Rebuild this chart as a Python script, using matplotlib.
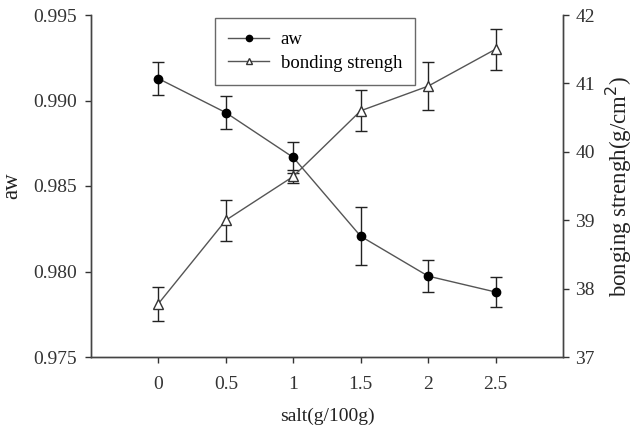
import matplotlib
matplotlib.use("Agg")
import matplotlib.pyplot as plt
from matplotlib.lines import Line2D

salt = [0, 0.5, 1, 1.5, 2, 2.5]
aw = [0.99128, 0.98929, 0.98667, 0.98206, 0.97973, 0.97880]
aw_err = [0.00098, 0.00098, 0.00090, 0.00170, 0.00095, 0.00090]
bond = [37.78, 39.00, 39.64, 40.60, 40.96, 41.50]
bond_err = [0.25, 0.30, 0.10, 0.30, 0.35, 0.30]
xticklabels = ["0", "0.5", "1", "1.5", "2", "2.5"]

plt.rcParams['font.family'] = ['Liberation Serif', 'DejaVu Serif']
fs = 14
line_c = '#555555'

fig = plt.figure(figsize=(6.39, 4.28), dpi=100)
ax = fig.add_axes([91/639, 1 - 357/428, (563-91)/639, (357-15)/428])
ax2 = ax.twinx()

ax.errorbar(salt, aw, yerr=aw_err, color=line_c, lw=1.0, marker='o', ms=6,
            mfc='black', mec='black', ecolor='#222222', elinewidth=1.0,
            capsize=4, capthick=1.0)
ax2.errorbar(salt, bond, yerr=bond_err, color=line_c, lw=1.0, marker='^', ms=6.5,
             mfc='white', mec='#333333', ecolor='#222222', elinewidth=1.0,
             capsize=4, capthick=1.0)

ax.set_xlim(-0.5, 3.0)
ax.set_ylim(0.975, 0.995)
ax.set_yticks([0.975, 0.980, 0.985, 0.990, 0.995])
ax.set_yticklabels(["0.975", "0.980", "0.985", "0.990", "0.995"])
ax.set_xticks(salt)
ax.set_xticklabels(xticklabels)
ax2.set_ylim(37, 42)
ax2.set_yticks([37, 38, 39, 40, 41, 42])

for a in (ax, ax2):
    a.spines['top'].set_visible(False)
    for s in a.spines.values():
        s.set_color('#444444')
        s.set_linewidth(1.0)
    a.tick_params(colors='#333333', labelsize=fs, direction='out', length=4, width=1.0)
ax.tick_params(axis='x', pad=10)
ax.tick_params(axis='y', pad=6)
ax2.tick_params(axis='y', pad=5)

ax.set_xlabel('salt(g/100g)', fontsize=fs, labelpad=10, color='#222222')
ax.set_ylabel('aw', fontsize=16.5, labelpad=8, color='#222222')
ax2.set_ylabel('bonging strengh(g/cm$^2$)', fontsize=16.5, labelpad=6, color='#222222')

h1 = Line2D([], [], color=line_c, lw=1.0, marker='o', ms=4.5, mfc='black', mec='black')
h2 = Line2D([], [], color=line_c, lw=1.0, marker='^', ms=5, mfc='white', mec='#333333')
leg = ax.legend([h1, h2], ['aw', 'bonding strengh'], loc='upper left',
                bbox_to_anchor=((215-91)/472, 1 - (18-15)/342), fontsize=13.5,
                frameon=True, fancybox=False, edgecolor='#444444',
                handlelength=2.2, handletextpad=0.6, borderpad=0.7,
                labelspacing=0.35, borderaxespad=0)
leg.get_frame().set_linewidth(1.0)

fig.savefig('out.png', dpi=100)
